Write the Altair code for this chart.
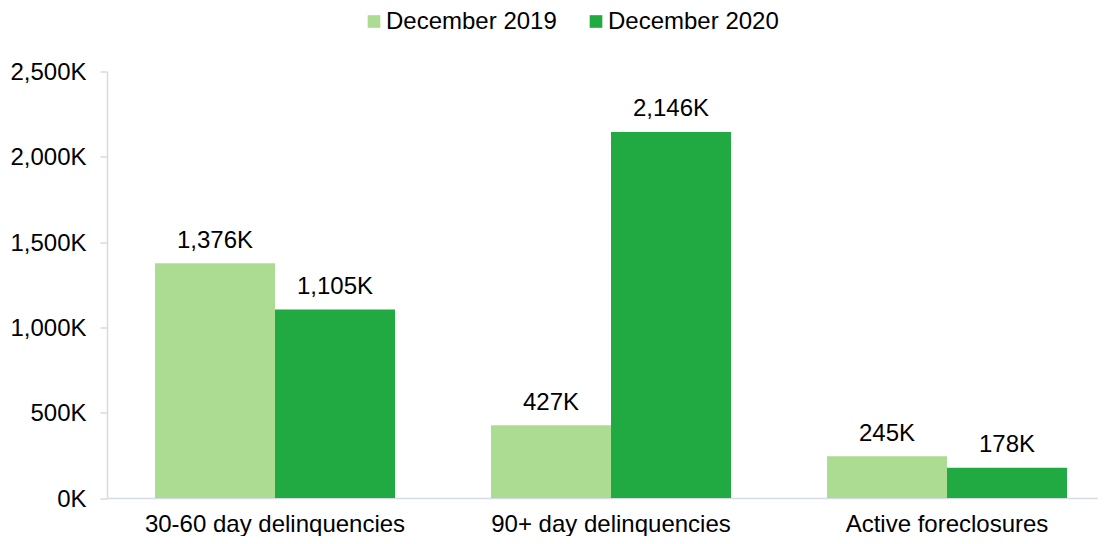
import altair as alt
import pandas as pd

categories = ["30-60 day delinquencies", "90+ day delinquencies", "Active foreclosures"]
series = ["December 2019", "December 2020"]
dec_2019 = [1376, 427, 245]
dec_2020 = [1105, 2146, 178]
colors = ["#acdc92", "#21a942"]
y_ticks = [0, 500, 1000, 1500, 2000, 2500]

rows = []
for i, c in enumerate(categories):
    rows.append({"category": c, "series": series[0], "value": dec_2019[i]})
    rows.append({"category": c, "series": series[1], "value": dec_2020[i]})
df = pd.DataFrame(rows)

FONT = "Liberation Sans"

x_enc = alt.X(
    "category:N",
    sort=categories,
    scale=alt.Scale(paddingInner=0.285714, paddingOuter=0.142857),
    axis=alt.Axis(
        title=None,
        labelAngle=0,
        labelFontSize=24,
        labelFont=FONT,
        labelColor="#000000",
        labelLimit=0,
        ticks=False,
        tickSize=0,
        labelPadding=14,
        domainColor="#d6dae3",
        domainWidth=1.5,
        grid=False,
    ),
)
xoff = alt.XOffset("series:N", sort=series, scale=alt.Scale(paddingInner=0, paddingOuter=0))
y_enc = alt.Y(
    "value:Q",
    scale=alt.Scale(domain=[0, 2500], nice=False),
    axis=alt.Axis(
        title=None,
        values=y_ticks,
        labelExpr="format(datum.value, ',') + 'K'",
        labelFontSize=24,
        labelFont=FONT,
        labelColor="#000000",
        tickSize=7,
        tickColor="#d6dae3",
        tickWidth=1.5,
        labelPadding=14,
        labelOffset=1,
        domainColor="#d6dae3",
        domainWidth=1.5,
        grid=False,
    ),
)

bars = alt.Chart(df).mark_bar().encode(
    x=x_enc,
    xOffset=xoff,
    y=y_enc,
    color=alt.Color(
        "series:N",
        sort=series,
        scale=alt.Scale(domain=series, range=colors),
        title=None,
        legend=alt.Legend(
            orient="none",
            direction="horizontal",
            legendX=255,
            legendY=-62,
            labelFontSize=24,
            labelFont=FONT,
            labelColor="#000000",
            labelLimit=0,
            symbolType="square",
            symbolSize=160,
            symbolStrokeWidth=0,
            labelOffset=0,
            columnPadding=27,
        ),
    ),
)

labels = alt.Chart(df).transform_calculate(
    label="format(datum.value, ',') + 'K'"
).mark_text(
    fontSize=24, font=FONT, color="#000000", baseline="alphabetic", dy=-15.5
).encode(
    x=alt.X("category:N", sort=categories),
    xOffset=alt.XOffset("series:N", sort=series),
    y=alt.Y("value:Q"),
    text="label:N",
)

chart = (
    alt.layer(bars, labels)
    .properties(
        width=1008,
        height=426.5,
        autosize=alt.AutoSizeParams(type="none"),
        padding={"left": 99, "top": 63.5, "right": -17, "bottom": 38},
        background="#ffffff",
    )
    .configure_view(stroke=None)
)

chart.save("out.html", embed_options={"renderer": "svg", "actions": False})
